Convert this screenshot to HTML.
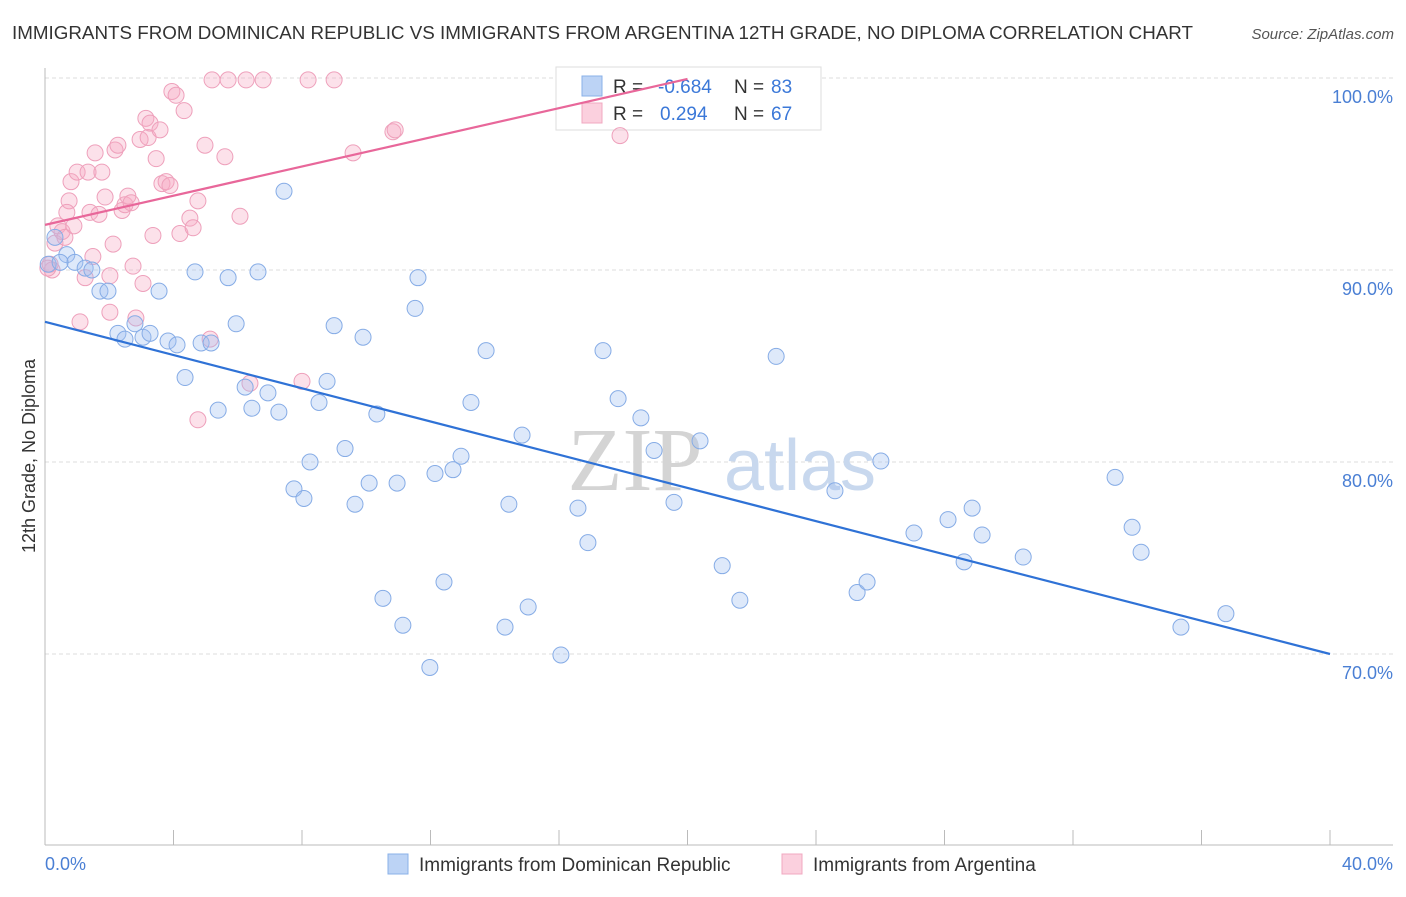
<!DOCTYPE html>
<html><head><meta charset="utf-8"><style>
body{margin:0;background:#fff;font-family:"Liberation Sans",sans-serif;}
</style></head><body>
<svg id="chart" width="1406" height="892" xmlns="http://www.w3.org/2000/svg">
<text x="12" y="39" font-size="18" fill="#333" textLength="1181" lengthAdjust="spacingAndGlyphs">IMMIGRANTS FROM DOMINICAN REPUBLIC VS IMMIGRANTS FROM ARGENTINA 12TH GRADE, NO DIPLOMA CORRELATION CHART</text>
<text x="1394" y="39" font-size="15" fill="#555" font-style="italic" text-anchor="end">Source: ZipAtlas.com</text>
<g id="grid"></g>
<g><text x="635" y="490" font-size="90" fill="#d4d4d4" font-family="Liberation Serif,serif" text-anchor="middle">ZIP</text><text x="800" y="490" font-size="72" fill="#c8d8ee" text-anchor="middle">atlas</text></g>
<line x1="45" y1="68" x2="45" y2="845" stroke="#bbb"/>
<line x1="45" y1="845" x2="1393" y2="845" stroke="#bbb"/>
<g>
<rect x="556" y="67" width="265" height="63" fill="#fff" stroke="#ddd"/>
<rect x="582" y="76" width="20" height="20" fill="#bcd3f5" stroke="#8ab0e8"/>
<rect x="582" y="103" width="20" height="20" fill="#fbd0de" stroke="#f0a8c0"/>
<text x="613" y="93" font-size="19" fill="#333">R = </text><text x="658" y="93" font-size="19" fill="#3b78d8">-0.684</text>
<text x="734" y="93" font-size="19" fill="#333">N = </text><text x="771" y="93" font-size="19" fill="#3b78d8">83</text>
<text x="613" y="120" font-size="19" fill="#333">R = </text><text x="660" y="120" font-size="19" fill="#3b78d8">0.294</text>
<text x="734" y="120" font-size="19" fill="#333">N = </text><text x="771" y="120" font-size="19" fill="#3b78d8">67</text>
</g>
<g id="pts"></g>
<g id="lines"></g>
<text transform="translate(35,456) rotate(-90)" font-size="18" fill="#333" text-anchor="middle">12th Grade, No Diploma</text>
<text x="45" y="870" font-size="18" fill="#4a7fd4">0.0%</text>
<text x="1393" y="870" font-size="18" fill="#4a7fd4" text-anchor="end">40.0%</text>
<g><rect x="388" y="854" width="20" height="20" fill="#bcd3f5" stroke="#8ab0e8"/><text x="419" y="871" font-size="19" fill="#333">Immigrants from Dominican Republic</text></g>
<g><rect x="782" y="854" width="20" height="20" fill="#fbd0de" stroke="#f0a8c0"/><text x="813" y="871" font-size="19" fill="#333">Immigrants from Argentina</text></g>
</svg>
<script>
const yTicks=[100,90,80,70];
const yTickLabels=["100.0%","90.0%","80.0%","70.0%"];
const xTicks=[0,4,8,12,16,20,24,28,32,36,40];
const blueX=[0.31,0.68,0.93,1.25,1.46,1.71,1.96,2.27,2.49,2.80,3.05,3.27,3.55,3.83,4.11,4.36,4.67,4.86,5.17,5.39,5.70,5.95,6.23,6.44,6.63,6.94,7.28,7.44,7.75,8.06,8.25,8.53,8.78,9.0,9.34,9.65,9.90,10.09,10.33,10.52,10.96,11.14,11.52,11.61,11.98,12.14,12.42,12.70,12.95,13.26,13.73,14.32,14.44,14.85,15.04,16.06,16.59,16.90,17.37,17.84,18.55,18.96,19.58,20.39,21.08,21.63,22.76,24.59,25.28,25.59,26.02,27.05,28.11,28.61,28.86,29.17,30.45,33.31,33.84,34.12,35.36,36.76,0.1,0.47];
const blueY=[91.7,90.8,90.4,90.1,90.0,88.9,88.9,86.7,86.4,87.2,86.5,86.7,88.9,86.3,86.1,84.4,89.9,86.2,86.2,82.7,89.6,87.2,83.9,82.8,89.9,83.6,82.6,94.1,78.6,78.1,80.0,83.1,84.2,87.1,80.7,77.8,86.5,78.9,82.5,72.9,78.9,71.5,88.0,89.6,69.3,79.4,73.75,79.6,80.3,83.1,85.8,71.4,77.8,81.4,72.45,69.95,77.6,75.8,85.8,83.3,82.3,80.6,77.9,81.1,74.6,72.8,85.5,78.5,73.2,73.75,80.05,76.3,77.0,74.8,77.6,76.2,75.05,79.2,76.6,75.3,71.4,72.1,90.3,90.4];
const pinkX=[0.16,0.22,0.31,0.40,0.53,0.62,0.75,0.81,0.90,1.0,1.09,1.25,1.34,1.40,1.49,1.56,1.68,1.77,1.87,2.02,2.02,2.12,2.18,2.27,2.40,2.49,2.58,2.68,2.74,2.83,2.96,3.05,3.14,3.21,3.27,3.36,3.46,3.58,3.64,3.77,3.89,3.95,4.08,4.20,4.33,4.51,4.61,4.76,4.76,4.98,5.14,5.20,5.60,5.70,6.07,6.26,6.38,6.79,8.0,8.19,9.0,9.59,10.83,10.9,17.9,0.09,0.68];
const pinkY=[90.3,90.0,91.4,92.3,92.0,91.7,93.6,94.6,92.3,95.1,87.3,89.6,95.1,93.0,90.7,96.1,92.9,95.1,93.8,89.7,87.8,91.35,96.25,96.5,93.1,93.4,93.85,93.5,90.2,87.5,96.8,89.3,97.9,96.9,97.65,91.8,95.8,97.3,94.5,94.6,94.4,99.3,99.1,91.9,98.3,92.7,92.2,93.6,82.2,96.5,86.4,99.9,95.9,99.9,92.8,99.9,84.1,99.9,84.2,99.9,99.9,96.1,97.2,97.3,97.0,90.1,93.0];
const blueTrend=[0,87.3,40,70.0];
const pinkTrend=[0,92.35,20,99.95];
const sx=v=>45+v/40*1285, sy=v=>78+(100-v)*19.2;
const NS="http://www.w3.org/2000/svg";
const grid=document.getElementById('grid');
yTicks.forEach((t,i)=>{
 const l=document.createElementNS(NS,'line');
 l.setAttribute('x1',45);l.setAttribute('x2',1393);l.setAttribute('y1',sy(t));l.setAttribute('y2',sy(t));
 l.setAttribute('stroke','#ddd');l.setAttribute('stroke-dasharray','4,3');
 
 
 grid.appendChild(l);
 const tx=document.createElementNS(NS,'text');
 tx.setAttribute('x',1393);tx.setAttribute('y',sy(t)+25);tx.setAttribute('text-anchor','end');
 tx.setAttribute('font-size','18');tx.setAttribute('fill','#4a7fd4');tx.textContent=yTickLabels[i];
 
 
 grid.appendChild(tx);
});
xTicks.forEach(t=>{
 const l=document.createElementNS(NS,'line');
 l.setAttribute('x1',sx(t));l.setAttribute('x2',sx(t));l.setAttribute('y1',830);l.setAttribute('y2',845);
 l.setAttribute('stroke','#bbb');
 
 
 grid.appendChild(l);
});
const pts=document.getElementById('pts');
function dots(X,Y,fill,stroke,name){
 X.forEach((x,i)=>{
  const c=document.createElementNS(NS,'circle');
  c.setAttribute('cx',sx(x));c.setAttribute('cy',sy(Y[i]));c.setAttribute('r',8);
  c.setAttribute('fill',fill);c.setAttribute('stroke',stroke);c.setAttribute('stroke-width','1');
  
  
  pts.appendChild(c);
 });
}
dots(pinkX,pinkY,'rgba(246,170,196,0.35)','#eea0bb','argentina-point');
dots(blueX,blueY,'rgba(160,192,240,0.35)','#86acE6','dominican-point');
const lines=document.getElementById('lines');
function trend(a,col,name){
 const l=document.createElementNS(NS,'line');
 l.setAttribute('x1',sx(a[0]));l.setAttribute('y1',sy(a[1]));l.setAttribute('x2',sx(a[2]));l.setAttribute('y2',sy(a[3]));
 l.setAttribute('stroke',col);l.setAttribute('stroke-width','2.2');
 
 
 lines.appendChild(l);
}
trend(blueTrend,'#2f72d6','dominican-trend-line');
trend(pinkTrend,'#e8679a','argentina-trend-line');
</script>
</body></html>
